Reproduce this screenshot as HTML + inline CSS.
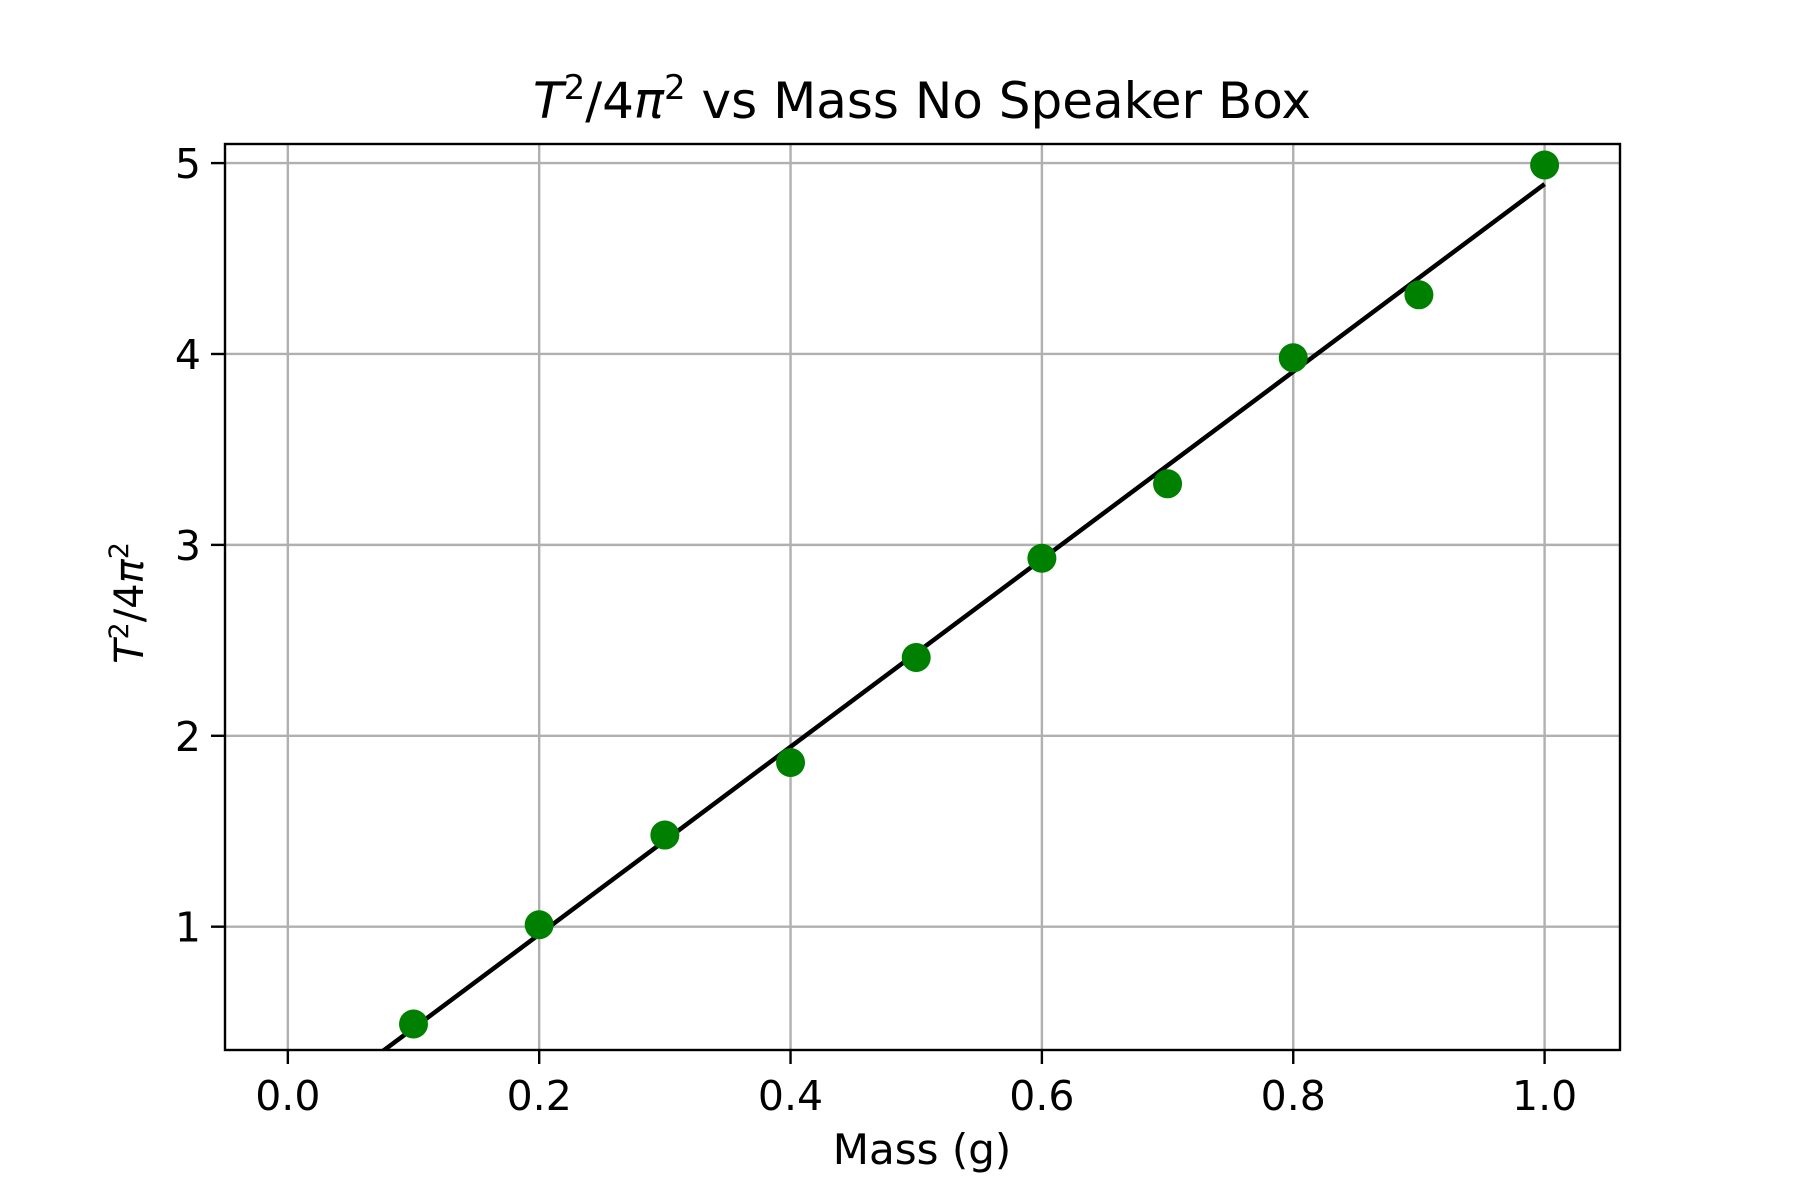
<!DOCTYPE html>
<html><head><meta charset="utf-8"><style>body{margin:0;background:#fff}svg{display:block}text{font-family:"DejaVu Sans","Liberation Sans",sans-serif}</style></head>
<body>
<svg id="chart" width="1800" height="1200" viewBox="0 0 1800 1200" xmlns="http://www.w3.org/2000/svg">
<defs><clipPath id="clip"><rect x="225" y="144" width="1395" height="906"/></clipPath></defs>
<rect width="1800" height="1200" fill="#fff"/>
<g id="grid"></g>
<g id="fit" clip-path="url(#clip)"></g>
<g id="pts" clip-path="url(#clip)"></g>
<rect x="225" y="144" width="1395" height="906" fill="none" stroke="#000" stroke-width="2.4"/>
<g id="ticks"></g>
<text x="922" y="118" font-size="50" text-anchor="middle"><tspan font-style="italic">T</tspan><tspan font-size="34" dy="-19">2</tspan><tspan dy="19">/4</tspan><tspan font-style="italic">π</tspan><tspan font-size="34" dy="-19">2</tspan><tspan dy="19"> vs Mass No Speaker Box</tspan></text>
<text x="922" y="1164" font-size="42" text-anchor="middle">Mass (g)</text>
<text transform="translate(143,603) rotate(-90)" font-size="40" text-anchor="middle"><tspan font-style="italic">T</tspan><tspan font-size="27" dy="-15">2</tspan><tspan dy="15">/4</tspan><tspan font-style="italic">π</tspan><tspan font-size="27" dy="-15">2</tspan></text>
</svg>
<script>
const masses=[0.1,0.2,0.3,0.4,0.5,0.6,0.7,0.8,0.9,1.0];
const values=[0.49,1.01,1.48,1.86,2.41,2.93,3.32,3.98,4.31,4.99];
const fitSlope=4.913;
const fitIntercept=-0.023;
const xTicks=[0,0.2,0.4,0.6,0.8,1.0];
const xTickLabels=["0.0","0.2","0.4","0.6","0.8","1.0"];
const yTicks=[1,2,3,4,5];
const yTickLabels=["1","2","3","4","5"];
const X0=-0.05,X1=1.06,Y0=0.354,Y1=5.1;
const L=225,R=1620,T=144,B=1050;
const sx=v=>L+(v-X0)/(X1-X0)*(R-L);
const sy=v=>B-(v-Y0)/(Y1-Y0)*(B-T);
const NS="http://www.w3.org/2000/svg";
function mk(tag,attrs,parent){const e=document.createElementNS(NS,tag);for(const k in attrs)e.setAttribute(k,attrs[k]);parent.appendChild(e);return e;}
const grid=document.getElementById('grid'),ticks=document.getElementById('ticks');
xTicks.forEach((v,i)=>{
 const g=mk('line',{x1:sx(v),x2:sx(v),y1:T,y2:B,stroke:'#b0b0b0','stroke-width':2.4},grid);
 
 
 const t=mk('line',{x1:sx(v),x2:sx(v),y1:B,y2:B+14,stroke:'#000','stroke-width':2.4},ticks);
 
 
 const l=mk('text',{x:sx(v),y:1110,'font-size':41,'text-anchor':'middle'},ticks);
 l.textContent=xTickLabels[i];
 
 
});
yTicks.forEach((v,i)=>{
 const g=mk('line',{x1:L,x2:R,y1:sy(v),y2:sy(v),stroke:'#b0b0b0','stroke-width':2.4},grid);
 
 
 const t=mk('line',{x1:L-14,x2:L,y1:sy(v),y2:sy(v),stroke:'#000','stroke-width':2.4},ticks);
 
 
 const l=mk('text',{x:L-24,y:sy(v)+15,'font-size':41,'text-anchor':'end'},ticks);
 l.textContent=yTickLabels[i];
 
 
});
const pts=document.getElementById('pts');
masses.forEach((m,i)=>{
 const c=mk('circle',{cx:sx(m),cy:sy(values[i]),r:14.5,fill:'#008000'},pts);
 
 
});
const fx0=0,fx1=1;
const ln=mk('line',{x1:sx(fx0),y1:sy(fitIntercept+fitSlope*fx0),x2:sx(fx1),y2:sy(fitIntercept+fitSlope*fx1),stroke:'#000','stroke-width':4.5},document.getElementById('fit'));


</script>
</body></html>
